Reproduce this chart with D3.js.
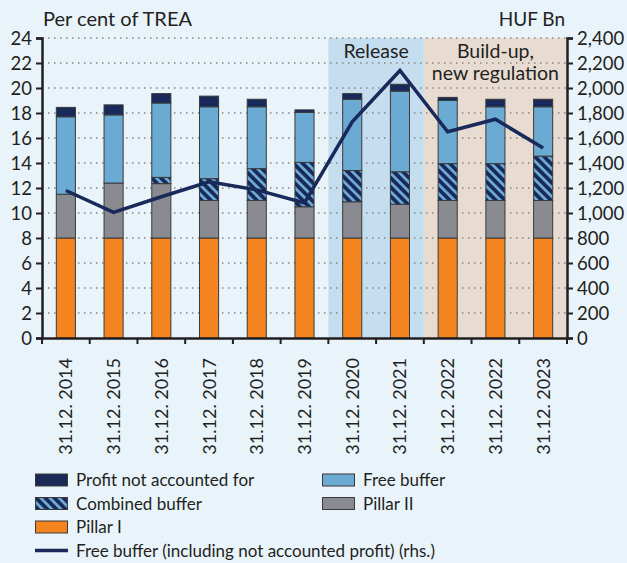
<!DOCTYPE html>
<html>
<head>
<meta charset="utf-8">
<script src="https://cdn.jsdelivr.net/npm/d3@7"></script>
<style>
  html, body { margin: 0; padding: 0; background: #e9f3fa; }
  svg { display: block; font-family: Lato, "Open Sans", sans-serif; }
</style>
</head>
<body>
<div id="chart"></div>
<script>
(function() {
"use strict";

var categories = ["31.12. 2014", "31.12. 2015", "31.12. 2016", "31.12. 2017", "31.12. 2018", "31.12. 2019",
  "31.12. 2020", "31.12. 2021", "31.12. 2022", "31.12. 2022", "31.12. 2023"];
var pillar1 = [8, 8, 8, 8, 8, 8, 8, 8, 8, 8, 8];
var pillar2 = [3.5, 4.4, 4.35, 3.0, 3.0, 2.5, 2.9, 2.7, 3.0, 3.0, 3.0];
var combined = [0, 0, 0.5, 1.75, 2.55, 3.55, 2.5, 2.6, 2.95, 2.95, 3.55];
var freeBuffer = [6.2, 5.45, 5.95, 5.75, 4.95, 4.0, 5.7, 6.45, 5.05, 4.55, 3.95];
var profit = [0.75, 0.8, 0.75, 0.85, 0.6, 0.2, 0.45, 0.55, 0.25, 0.6, 0.6];
var freeInclProfit = [1180, 1005, 1130, 1250, 1185, 1080, 1730, 2140, 1650, 1750, 1520];
var leftTicks = [0, 2, 4, 6, 8, 10, 12, 14, 16, 18, 20, 22, 24];
var rightTicks = [0, 200, 400, 600, 800, 1000, 1200, 1400, 1600, 1800, 2000, 2200, 2400];
var periods = [
  {label: ["Release"], from: 6, to: 7, color: "#c4ddef"},
  {label: ["Build-up,", "new regulation"], from: 8, to: 10, color: "#e8dcd2"}
];

var W = 627, H = 563;
var m = {left: 42, right: 60, top: 38, bottom: 225};
var iw = W - m.left - m.right, ih = H - m.top - m.bottom;
var ink = "#231f20";

var svg = d3.select("#chart").append("svg")
  .attr("width", W).attr("height", H);
svg.append("rect").attr("width", W).attr("height", H).attr("fill", "#e9f3fa");

var defs = svg.append("defs");
var pat = defs.append("pattern")
  .attr("id", "stripes")
  .attr("patternUnits", "userSpaceOnUse")
  .attr("width", 6.5).attr("height", 6.5)
  .attr("patternTransform", "rotate(-45)");
pat.append("rect").attr("width", 6.5).attr("height", 6.5).attr("fill", "#18295a");
pat.append("rect").attr("width", 2.8).attr("height", 6.5).attr("fill", "#6aaad3");

var x = d3.scaleBand().domain(d3.range(categories.length)).range([0, iw]);
var y = d3.scaleLinear().domain([0, 24]).range([ih, 0]);
var y2 = d3.scaleLinear().domain([0, 2400]).range([ih, 0]);

var g = svg.append("g").attr("transform", "translate(" + m.left + "," + m.top + ")");

// shaded periods
g.selectAll("rect.period").data(periods).enter().append("rect")
  .attr("class", "period")
  .attr("x", function(d) { return x(d.from); })
  .attr("width", function(d) { return x(d.to) + x.bandwidth() - x(d.from); })
  .attr("y", 0).attr("height", ih)
  .attr("fill", function(d) { return d.color; });

// grid
g.selectAll("line.grid").data(leftTicks.filter(function(t) { return t > 0; })).enter().append("line")
  .attr("class", "grid")
  .attr("x1", 0).attr("x2", iw)
  .attr("y1", function(d) { return y(d); }).attr("y2", function(d) { return y(d); })
  .attr("stroke", "#8a8580").attr("stroke-width", 1.3)
  .attr("stroke-dasharray", "1.5,4.5");

// period labels
periods.forEach(function(p) {
  var cx = (x(p.from) + x(p.to) + x.bandwidth()) / 2;
  p.label.forEach(function(t, i) {
    g.append("text").attr("x", cx).attr("y", 20 + i * 22)
      .attr("text-anchor", "middle").attr("font-size", 19.5).attr("fill", ink).text(t);
  });
});

// stacked bars
var series = [
  {key: "Pillar I", values: pillar1, fill: "#f4841f"},
  {key: "Pillar II", values: pillar2, fill: "#898b90"},
  {key: "Combined buffer", values: combined, fill: "url(#stripes)"},
  {key: "Free buffer", values: freeBuffer, fill: "#6aaad3"},
  {key: "Profit not accounted for", values: profit, fill: "#18295a"}
];
var bw = x.bandwidth() * 0.4;
var base = categories.map(function() { return 0; });
series.forEach(function(s) {
  var segs = s.values.map(function(v, i) {
    return {i: i, y0: base[i], y1: base[i] + v};
  }).filter(function(d) { return d.y1 > d.y0; });
  g.append("g").selectAll("rect").data(segs).enter().append("rect")
    .attr("x", function(d) { return x(d.i) + (x.bandwidth() - bw) / 2; })
    .attr("width", bw)
    .attr("y", function(d) { return y(d.y1); })
    .attr("height", function(d) { return y(d.y0) - y(d.y1); })
    .attr("fill", s.fill)
    .attr("stroke", "#3a3a3a").attr("stroke-width", 1);
  s.values.forEach(function(v, i) { base[i] += v; });
});

// line (rhs)
var line = d3.line()
  .x(function(d, i) { return x(i) + x.bandwidth() / 2; })
  .y(function(d) { return y2(d); });
g.append("path").datum(freeInclProfit)
  .attr("d", line)
  .attr("fill", "none").attr("stroke", "#18295a").attr("stroke-width", 3.5)
  .attr("stroke-linejoin", "miter");

// axes
var axL = g.append("g").call(d3.axisLeft(y).tickValues(leftTicks).tickSize(6).tickPadding(4));
var axR = g.append("g").attr("transform", "translate(" + iw + ",0)")
  .call(d3.axisRight(y2).tickValues(rightTicks).tickSize(6).tickPadding(4).tickFormat(d3.format(",")));
var axB = g.append("g").attr("transform", "translate(0," + ih + ")")
  .call(d3.axisBottom(x).tickSize(0).tickFormat(function(i) { return categories[i]; }));

[axL, axR].forEach(function(a) {
  a.select(".domain").attr("stroke", ink).attr("stroke-width", 2.5);
  a.selectAll(".tick line").attr("stroke", ink).attr("stroke-width", 2);
  a.selectAll("text").attr("font-size", 18.5).attr("fill", ink)
    .attr("font-family", "Lato, 'Open Sans', sans-serif").attr("dy", "0.36em");
});

axB.select(".domain").attr("stroke", ink).attr("stroke-width", 2.5);
axB.selectAll("text")
  .attr("font-size", 18).attr("fill", ink).attr("font-family", "Lato, 'Open Sans', sans-serif")
  .attr("transform", "rotate(-90)")
  .attr("text-anchor", "end")
  .attr("x", -20).attr("y", 0).attr("dy", "0.36em");
g.append("g").selectAll("line").data(d3.range(categories.length + 1)).enter().append("line")
  .attr("x1", function(d) { return d * x.bandwidth(); })
  .attr("x2", function(d) { return d * x.bandwidth(); })
  .attr("y1", ih).attr("y2", ih + 6)
  .attr("stroke", ink).attr("stroke-width", 2);

// axis titles
svg.append("text").attr("x", 43).attr("y", 26).attr("font-size", 20).attr("fill", ink).text("Per cent of TREA");
svg.append("text").attr("x", W - m.right - 2).attr("y", 26).attr("text-anchor", "end")
  .attr("font-size", 19).attr("fill", ink).text("HUF Bn");

// legend
var legend = [
  {key: "Profit not accounted for", fill: "#18295a", col: 0, row: 0},
  {key: "Free buffer", fill: "#6aaad3", col: 1, row: 0},
  {key: "Combined buffer", fill: "url(#stripes)", col: 0, row: 1},
  {key: "Pillar II", fill: "#898b90", col: 1, row: 1},
  {key: "Pillar I", fill: "#f4841f", col: 0, row: 2},
  {key: "Free buffer (including not accounted profit) (rhs.)", line: true, col: 0, row: 3}
];
var lg = svg.append("g").selectAll("g").data(legend).enter().append("g")
  .attr("transform", function(d) { return "translate(" + (d.col ? 322 : 35) + "," + (480 + d.row * 23.5) + ")"; });
lg.each(function(d) {
  var s = d3.select(this);
  if (d.line) {
    s.append("line").attr("x1", 0).attr("x2", 33).attr("y1", 0).attr("y2", 0)
      .attr("stroke", "#18295a").attr("stroke-width", 3.5);
  } else {
    s.append("rect").attr("x", 0.5).attr("y", -6).attr("width", 32).attr("height", 12)
      .attr("fill", d.fill).attr("stroke", "#3a3a3a").attr("stroke-width", 1);
  }
  s.append("text").attr("x", 41).attr("y", 0).attr("dy", "0.36em")
    .attr("font-size", 17).attr("fill", ink).text(d.key);
});

})();
</script>
</body>
</html>
